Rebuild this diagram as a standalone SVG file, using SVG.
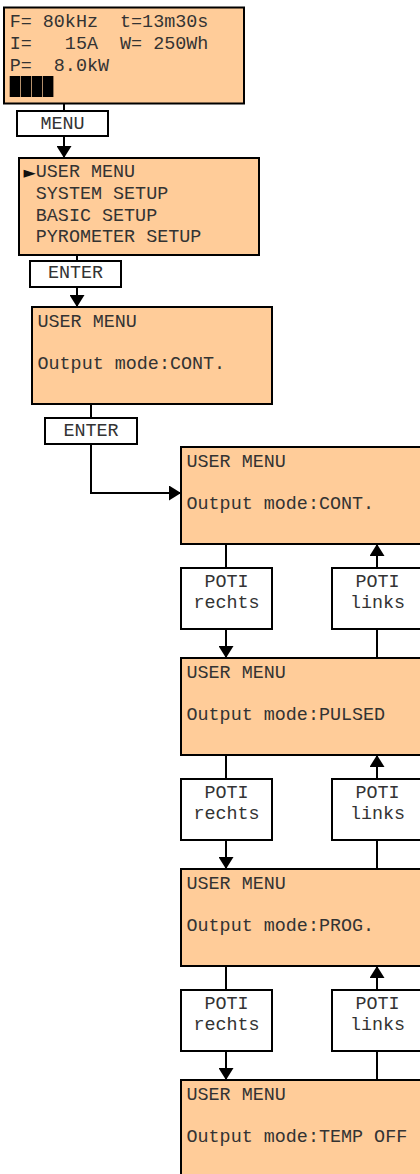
<svg xmlns="http://www.w3.org/2000/svg" width="420" height="1174" viewBox="0 0 420 1174">
<style>
.lcd{fill:#FFCC99;stroke:#000;stroke-width:2}
.key{fill:#fff;stroke:#000;stroke-width:2}
.t{font-family:"Liberation Mono","Courier New",monospace;font-size:18.4px;fill:#333}
.c{text-anchor:middle}
.ln{fill:none;stroke:#000;stroke-width:2}
</style>
<defs>
<marker id="ah" markerUnits="userSpaceOnUse" markerWidth="13" markerHeight="15" refX="12" refY="7.5" orient="auto">
<path d="M0,0 L12,7.5 L0,15 z" fill="#000"/>
</marker>
</defs>
<g id="connectors">
<path class="ln" d="M64,103.5 V111"/>
<path class="ln" d="M64,136 V158" marker-end="url(#ah)"/>
<path class="ln" d="M77,255 V261"/>
<path class="ln" d="M77,287 V307" marker-end="url(#ah)"/>
<path class="ln" d="M91,404 V418"/>
<path class="ln" d="M91,444 V493 H181" marker-end="url(#ah)"/>
<path class="ln" d="M226,544 V568"/>
<path class="ln" d="M226,629 V658" marker-end="url(#ah)"/>
<path class="ln" d="M377,658 V629"/>
<path class="ln" d="M377,568 V544" marker-end="url(#ah)"/>
<path class="ln" d="M226,755 V779"/>
<path class="ln" d="M226,840 V869" marker-end="url(#ah)"/>
<path class="ln" d="M377,869 V840"/>
<path class="ln" d="M377,779 V755" marker-end="url(#ah)"/>
<path class="ln" d="M226,966 V990"/>
<path class="ln" d="M226,1051 V1080" marker-end="url(#ah)"/>
<path class="ln" d="M377,1080 V1051"/>
<path class="ln" d="M377,990 V966" marker-end="url(#ah)"/>
</g>
<g id="status">
<rect class="lcd" x="4" y="7.5" width="240" height="96"/>
<text class="t" x="9.7" y="27" xml:space="preserve">F= 80kHz  t=13m30s</text>
<text class="t" x="9.7" y="49" xml:space="preserve">I=   15A  W= 250Wh</text>
<text class="t" x="9.7" y="70.5" xml:space="preserve">P=  8.0kW</text>
<rect x="9.7" y="76" width="10.4" height="21" fill="#000"/>
<rect x="20.8" y="76" width="10.4" height="21" fill="#000"/>
<rect x="31.9" y="76" width="10.4" height="21" fill="#000"/>
<rect x="43" y="76" width="10.4" height="21" fill="#000"/>
</g>
<g id="key-menu">
<rect class="key" x="17" y="111" width="91" height="25"/>
<text class="t c" x="62.5" y="129">MENU</text>
</g>
<g id="main-menu">
<rect class="lcd" x="19" y="158" width="240" height="97"/>
<text x="23.5" y="178" style="font-family:'DejaVu Sans',sans-serif;font-size:16px;fill:#111">►</text>
<text class="t" x="35.8" y="177">USER MENU</text>
<text class="t" x="35.8" y="199">SYSTEM SETUP</text>
<text class="t" x="35.8" y="220.5">BASIC SETUP</text>
<text class="t" x="35.8" y="242">PYROMETER SETUP</text>
</g>
<g id="key-enter1">
<rect class="key" x="30" y="261" width="91" height="26"/>
<text class="t c" x="75.5" y="278">ENTER</text>
</g>
<g id="user-menu">
<rect class="lcd" x="32" y="307" width="240" height="97"/>
<text class="t" x="37.5" y="327">USER MENU</text>
<text class="t" x="37.5" y="369">Output mode:CONT.</text>
</g>
<g id="key-enter2">
<rect class="key" x="45" y="418" width="92" height="26"/>
<text class="t c" x="91" y="435.5">ENTER</text>
</g>
<g id="mode-cont">
<rect class="lcd" x="181" y="447" width="242" height="97"/>
<text class="t" x="186.5" y="467">USER MENU</text>
<text class="t" x="186.5" y="509">Output mode:CONT.</text>
</g>
<g id="poti-r1">
<rect class="key" x="181" y="568" width="91" height="61"/>
<text class="t c" x="226.5" y="587">POTI</text>
<text class="t c" x="226.5" y="608">rechts</text>
</g>
<g id="poti-l1">
<rect class="key" x="332" y="568" width="91" height="61"/>
<text class="t c" x="377.5" y="587">POTI</text>
<text class="t c" x="377.5" y="608">links</text>
</g>
<g id="mode-pulsed">
<rect class="lcd" x="181" y="658" width="242" height="97"/>
<text class="t" x="186.5" y="678">USER MENU</text>
<text class="t" x="186.5" y="720">Output mode:PULSED</text>
</g>
<g id="poti-r2">
<rect class="key" x="181" y="779" width="91" height="61"/>
<text class="t c" x="226.5" y="798">POTI</text>
<text class="t c" x="226.5" y="819">rechts</text>
</g>
<g id="poti-l2">
<rect class="key" x="332" y="779" width="91" height="61"/>
<text class="t c" x="377.5" y="798">POTI</text>
<text class="t c" x="377.5" y="819">links</text>
</g>
<g id="mode-prog">
<rect class="lcd" x="181" y="869" width="242" height="97"/>
<text class="t" x="186.5" y="889">USER MENU</text>
<text class="t" x="186.5" y="931">Output mode:PROG.</text>
</g>
<g id="poti-r3">
<rect class="key" x="181" y="990" width="91" height="61"/>
<text class="t c" x="226.5" y="1009">POTI</text>
<text class="t c" x="226.5" y="1030">rechts</text>
</g>
<g id="poti-l3">
<rect class="key" x="332" y="990" width="91" height="61"/>
<text class="t c" x="377.5" y="1009">POTI</text>
<text class="t c" x="377.5" y="1030">links</text>
</g>
<g id="mode-tempoff">
<rect class="lcd" x="181" y="1080" width="242" height="97"/>
<text class="t" x="186.5" y="1100">USER MENU</text>
<text class="t" x="186.5" y="1142">Output mode:TEMP OFF</text>
</g>
</svg>
